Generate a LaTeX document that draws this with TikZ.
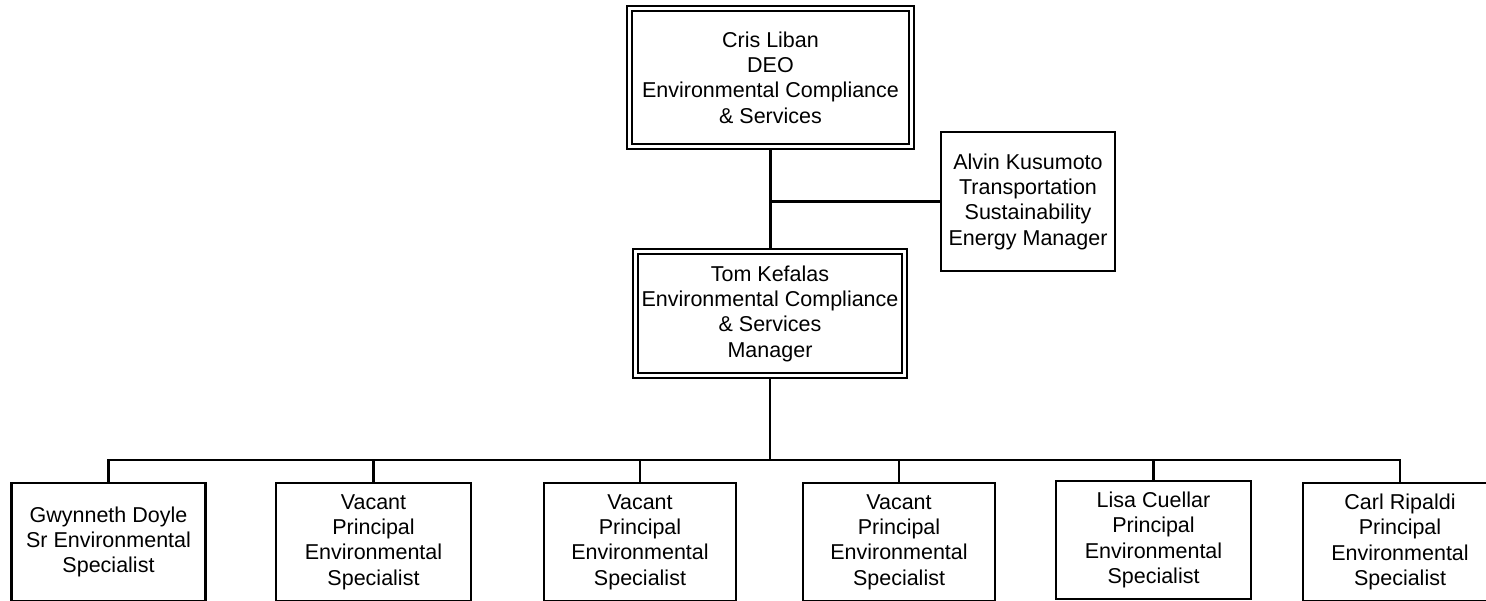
\documentclass[tikz,border=0pt]{standalone}
\usepackage{fontspec}
\setmainfont{Liberation Sans}
\begin{document}
\begin{tikzpicture}[x=1pt,y=-1pt,
  box/.style={draw=black, line width=2.2pt, fill=white, inner sep=0pt, align=center,
    font=\fontsize{21.5}{25.3}\selectfont},
  dbox/.style={box, line width=2.2pt, double=white, double distance=2.8pt, outer sep=3.6pt},
  conn/.style={draw=black, line width=2.2pt}]
\useasboundingbox[fill=white] (0,0) rectangle (1486,601);
\node[dbox, minimum width=282pt, minimum height=138pt] (cris) at (770.5,77.5)
  {Cris Liban\\DEO\\Environmental Compliance\\\& Services};
\node[dbox, minimum width=269pt, minimum height=124pt] (tom) at (770,313.5)
  {Tom Kefalas\\Environmental Compliance\\\& Services\\Manager};
\node[box, minimum width=174pt, minimum height=139pt] (alvin) at (1028,201.5)
  {Alvin Kusumoto\\Transportation\\Sustainability\\Energy Manager};
\node[box, minimum width=194pt, minimum height=118pt] (gwyn) at (108.5,542)
  {Gwynneth Doyle\\Sr Environmental\\Specialist};
\node[box, minimum width=195pt, minimum height=118pt] (vac1) at (373.5,542)
  {Vacant\\Principal\\Environmental\\Specialist};
\node[box, minimum width=192pt, minimum height=118pt] (vac2) at (640,542)
  {Vacant\\Principal\\Environmental\\Specialist};
\node[box, minimum width=192pt, minimum height=118pt] (vac3) at (899,542)
  {Vacant\\Principal\\Environmental\\Specialist};
\node[box, minimum width=195pt, minimum height=118pt] (lisa) at (1153.5,540)
  {Lisa Cuellar\\Principal\\Environmental\\Specialist};
\node[box, minimum width=194pt, minimum height=118pt] (carl) at (1400,542)
  {Carl Ripaldi\\Principal\\Environmental\\Specialist};
\coordinate (bus) at (770,460);
\draw[conn] (cris.south) -- (cris.south |- tom.north);
\draw[conn] (alvin.west) -- (alvin.west -| cris.south);
\draw[conn, line width=2.6pt] (tom.south) -- (tom.south |- bus);
\draw[conn] (gwyn.north) -- (gwyn.north |- bus) -- (carl.north |- bus) -- (carl.north);
\foreach \n in {vac1,vac2,vac3,lisa} \draw[conn] (\n.north) -- (\n.north |- bus);
\end{tikzpicture}
\end{document}
